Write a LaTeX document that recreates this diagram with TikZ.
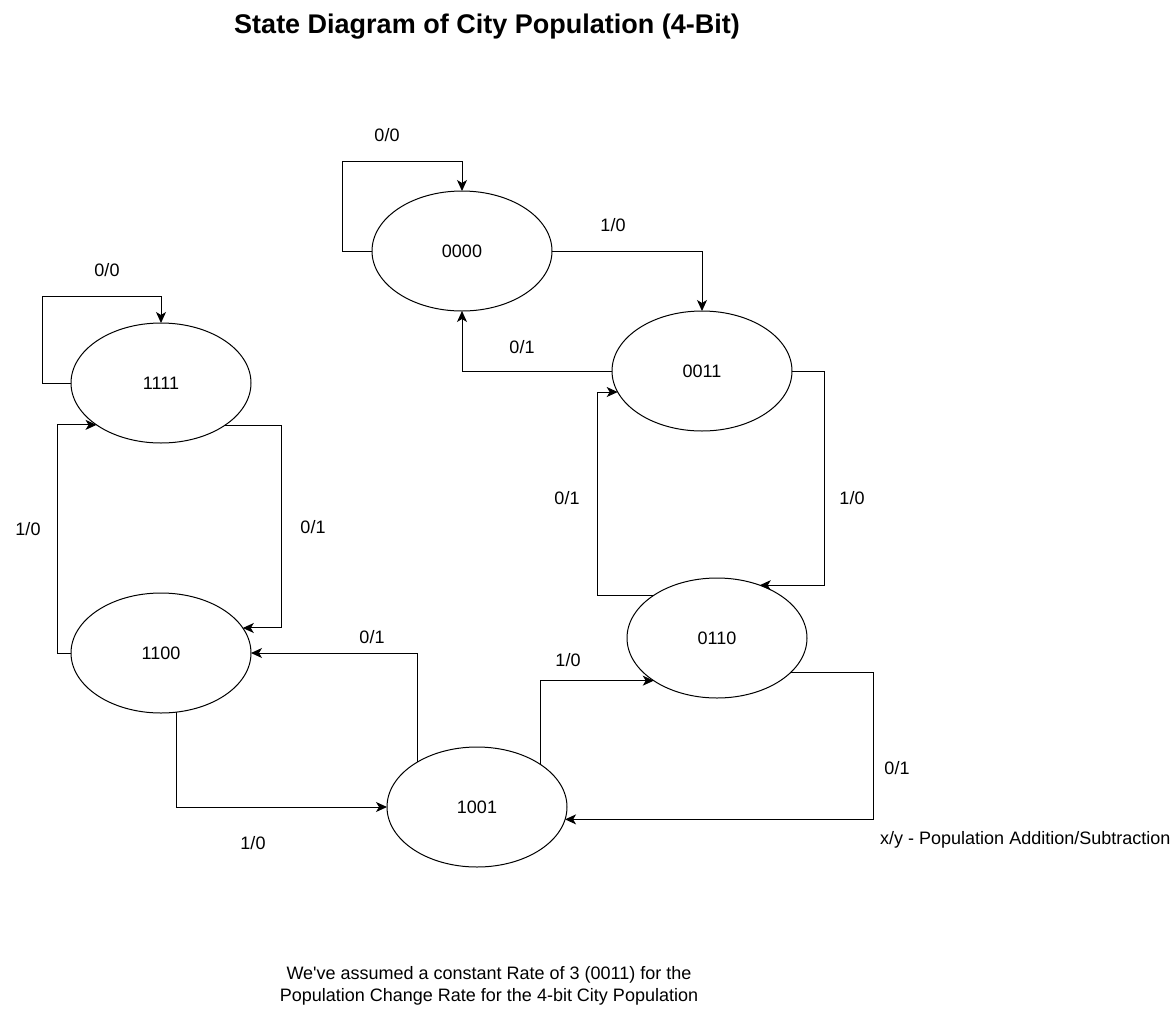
\documentclass[tikz,border=0pt]{standalone}
\usepackage{fontspec}
\setmainfont{Liberation Sans}
\usetikzlibrary{arrows.meta,shapes.geometric,calc}
\begin{document}
\begin{tikzpicture}[x=1pt,y=-1pt,
  state/.style={ellipse,draw,line width=1pt,minimum width=180pt,minimum height=120pt,inner sep=0pt,outer sep=0pt,font=\fontsize{18}{21}\selectfont},
  lbl/.style={font=\fontsize{18}{21}\selectfont,inner sep=0pt},
  arr/.style={line width=1pt,-{Stealth[length=11pt,width=10pt,inset=3pt]}}]
\useasboundingbox[fill=white] (0,0) rectangle (1173,1010);

\node[font=\bfseries\fontsize{27}{32}\selectfont,inner sep=0pt] (title) at (487,27) {State Diagram of City Population (4-Bit)};

\node[state] (n0000) at (462,251) {0000};
\node[state] (n0011) at (702,371) {0011};
\node[state] (n0110) at (717,638) {0110};
\node[state] (n1001) at (477,807) {1001};
\node[state] (n1100) at (161,653) {1100};
\node[state] (n1111) at (161,383) {1111};

% edges
\draw[arr] (n0000.west) -- ++(-30,0) -- ++(0,-90) -| (n0000.north);
\draw[arr] (n0000.east) -| (n0011.north);
\draw[arr] (n0011.west) -| (n0000.south);
\draw[arr] (n0011.east) -- ++(32,0) |- (n0110.51.6);
\draw[arr] (n0110.146.8) -- ++(-56,0) |- (n0011.194);
\draw[arr] (n0110.335.4) -- ++(83,0) |- (n1001.352.9);
\draw[arr] (n1001.34.2) |- (n0110.214.4);
\draw[arr] (n1001.143.3) |- (n1100.east);
\draw[arr] (n1100.285.2) |- (n1001.west);
\draw[arr] (n1100.west) -- ++(-14,0) |- (n1111.213.2);
\draw[arr] (n1111.326.8) -- ++(57,0) |- (n1100.17.8);
\draw[arr] (n1111.west) -- ++(-29,0) -- ++(0,-87) -| (n1111.north);

% labels
\node[lbl] (a1) at (387,135) {0/0};
\node[lbl] (a2) at (613,225) {1/0};
\node[lbl] (a3) at (522,347) {0/1};
\node[lbl] (a4) at (107,270) {0/0};
\node[lbl] (a5) at (28,529) {1/0};
\node[lbl] (a6) at (313,527) {0/1};
\node[lbl] (a7) at (567,498) {0/1};
\node[lbl] (a8) at (852,498) {1/0};
\node[lbl] (a9) at (372,637) {0/1};
\node[lbl] (a10) at (253,843) {1/0};
\node[lbl] (a11) at (568,660) {1/0};
\node[lbl] (a12) at (897,768) {0/1};

\node[lbl,anchor=west] (legend) at (880,840) {x/y - Population Addition/Subtraction};

\node[lbl,align=center,font=\fontsize{18}{22}\selectfont] (note) at (489,986) {We\textquotesingle ve assumed a constant Rate of 3 (0011) for the\\Population Change Rate for the 4-bit City Population};
\end{tikzpicture}
\end{document}
